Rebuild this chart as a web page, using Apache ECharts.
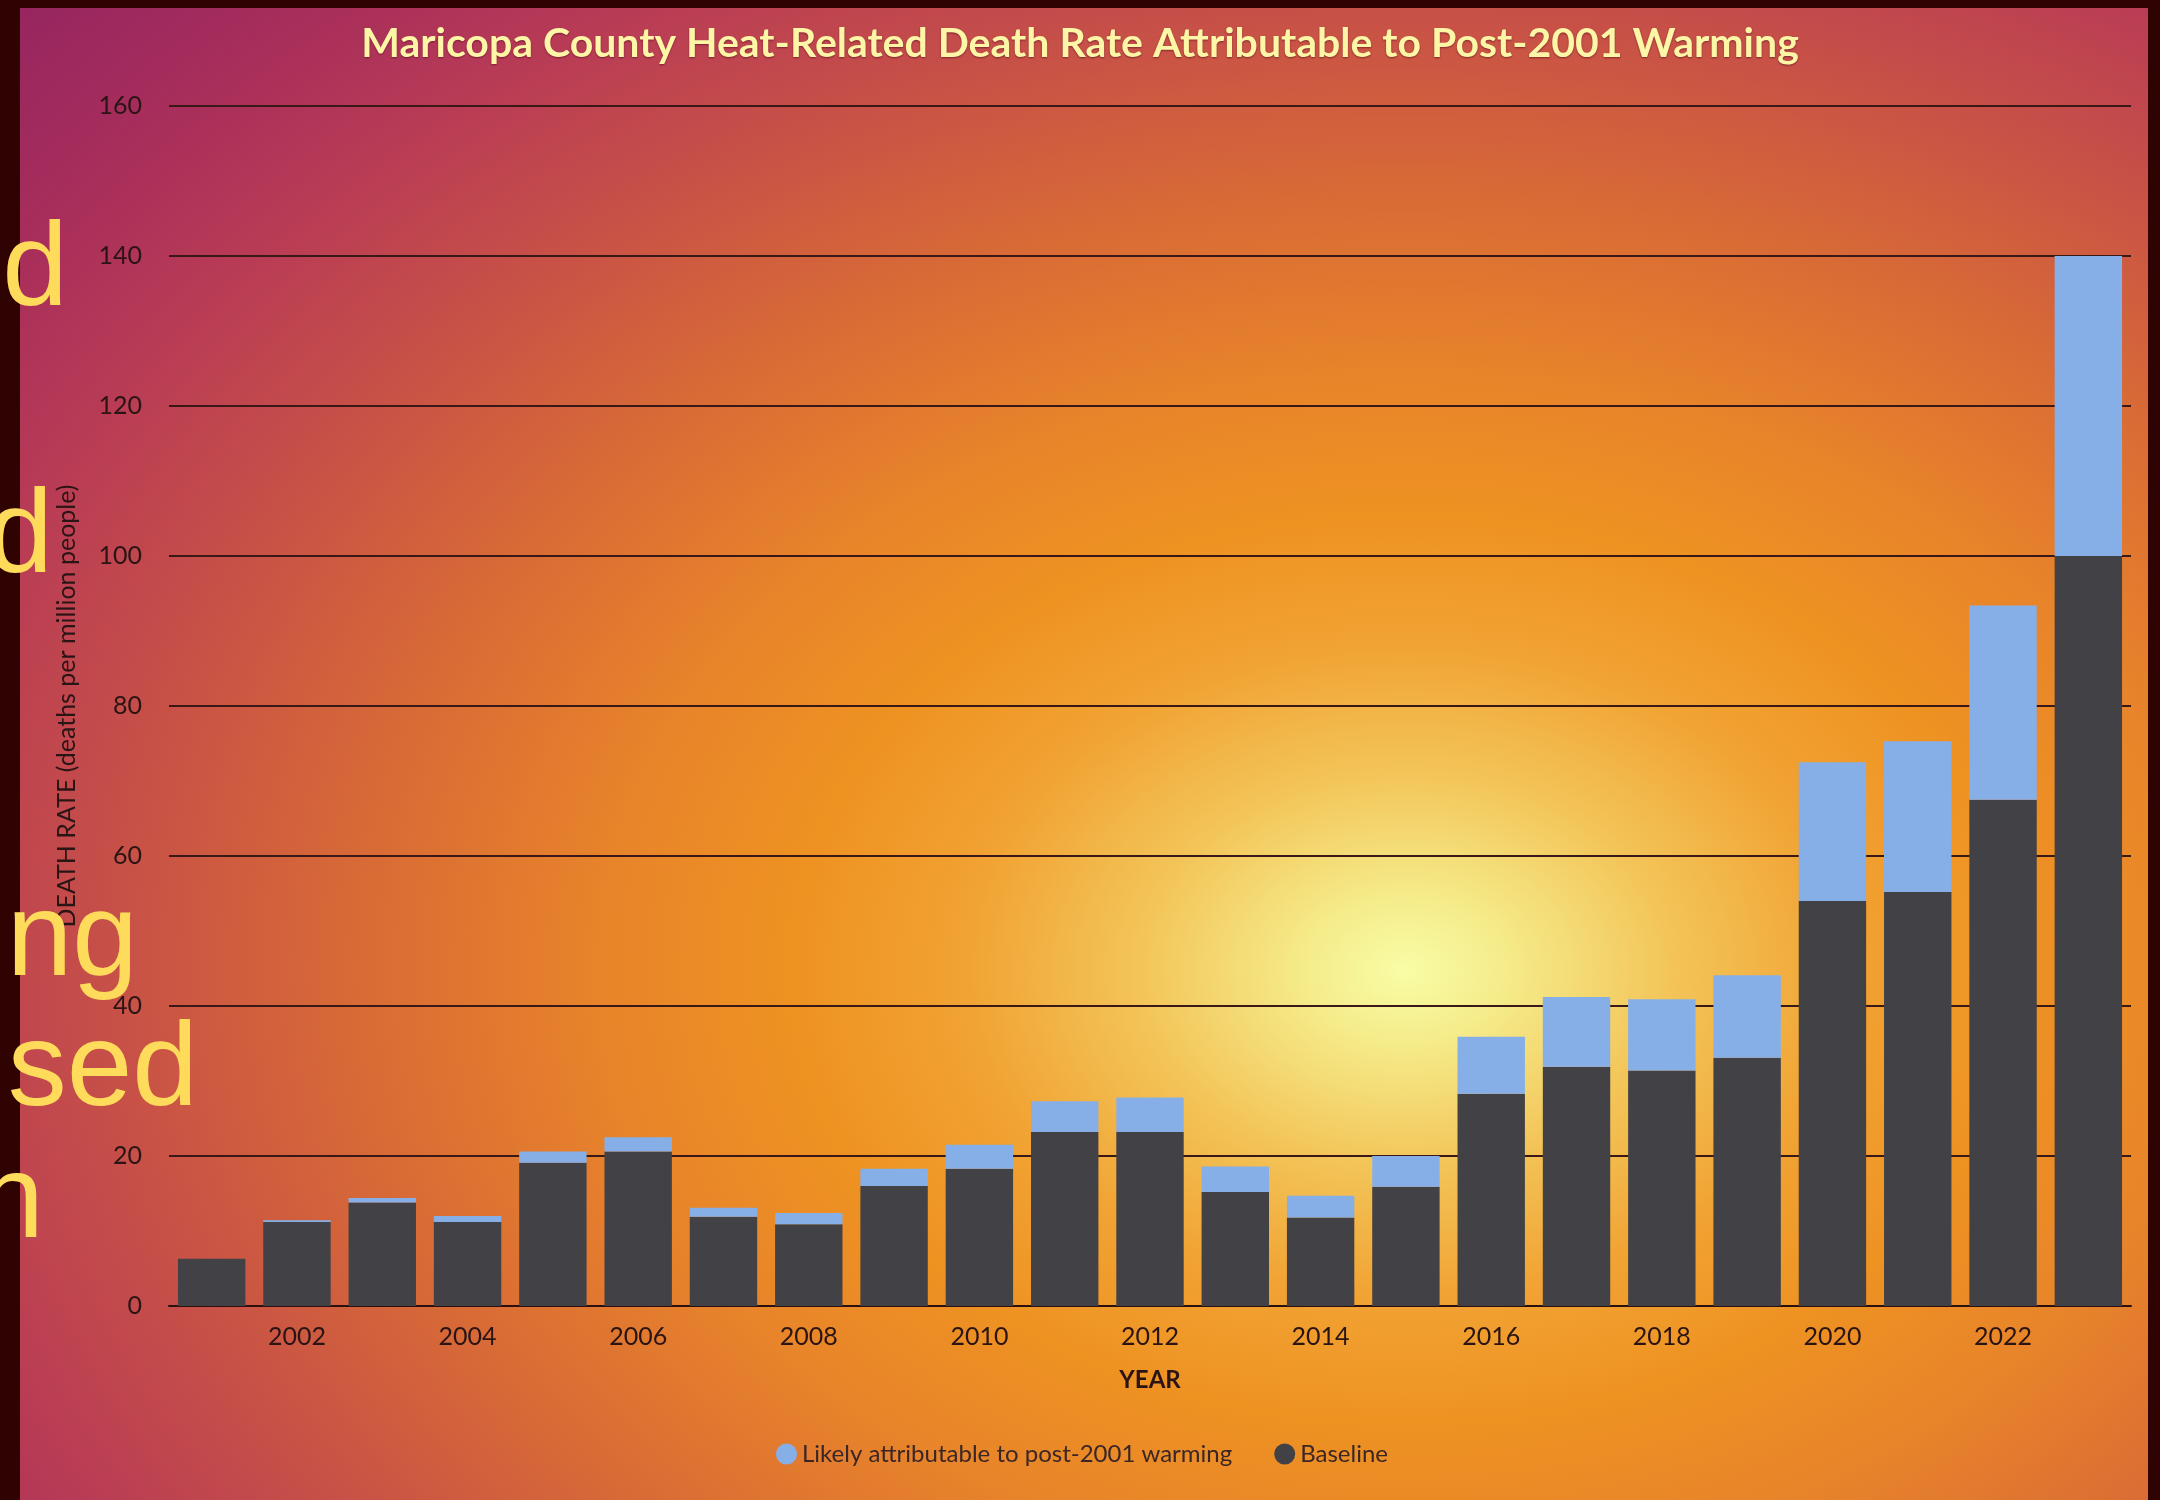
<!DOCTYPE html>
<html>
<head>
<meta charset="utf-8">
<script src="https://cdn.jsdelivr.net/npm/echarts@6/dist/echarts.min.js"></script>
<style>
html,body{margin:0;padding:0;background:#300303;}
#chart{width:2160px;height:1500px;}
</style>
</head>
<body>
<div id="chart"></div>
<script>
// ---- data ----
const years = ['2001','2002','2003','2004','2005','2006','2007','2008','2009','2010','2011','2012',
               '2013','2014','2015','2016','2017','2018','2019','2020','2021','2022','2023'];
const baseline = [6.3, 11.2, 13.8, 11.2, 19.1, 20.6, 11.9, 10.9, 16.0, 18.3, 23.2, 23.2,
                  15.2, 11.8, 15.9, 28.3, 31.9, 31.4, 33.1, 54.0, 55.2, 67.5, 100.0];
const warming  = [0, 0.25, 0.6, 0.8, 1.5, 1.9, 1.2, 1.5, 2.3, 3.2, 4.1, 4.6,
                  3.4, 2.9, 4.1, 7.6, 9.3, 9.5, 11.0, 18.5, 20.1, 25.9, 40.0];
const yMin = 0, yMax = 160, yStep = 20;
const titleText = 'Maricopa County Heat-Related Death Rate Attributable to Post-2001 Warming';
const xName = 'YEAR';
const yName = 'DEATH RATE (deaths per million people)';
const seriesNames = ['Likely attributable to post-2001 warming', 'Baseline'];
const overlayWords = ['d', 'd', 'ng', 'sed', 'n'];

// ---- layout / style ----
const FONT = 'Lato, "Open Sans", sans-serif';
const inkColor = '#2a1414';
const overlayPos = [[68, 272], [53, 539], [138, 942], [198, 1072], [44, 1204]];
const panel = {x: 20, y: 8, w: 2128, h: 1492};
const sx = 1.35;

const chart = echarts.init(document.getElementById('chart'), null, {renderer: 'canvas'});

const graphics = [
  {
    type: 'rect', z: -100, silent: true,
    x: panel.x, y: panel.y, scaleX: sx,
    shape: {x: 0, y: 0, width: panel.w / sx, height: panel.h},
    style: {
      fill: {
        type: 'radial', global: true,
        x: (1405 - panel.x) / sx, y: 970 - panel.y, r: 1420,
        colorStops: [
          {offset: 0.00, color: '#f8fda6'},
          {offset: 0.056, color: '#f5ea88'},
          {offset: 0.14, color: '#f3c458'},
          {offset: 0.23, color: '#f1a333'},
          {offset: 0.32, color: '#ee9222'},
          {offset: 0.42, color: '#e8842a'},
          {offset: 0.54, color: '#d96c35'},
          {offset: 0.68, color: '#c64f48'},
          {offset: 0.78, color: '#b93c55'},
          {offset: 0.88, color: '#a82e5b'},
          {offset: 1.00, color: '#952560'}
        ]
      }
    }
  }
];
overlayWords.forEach(function (w, i) {
  graphics.push({
    type: 'text', z: 200, silent: true,
    x: overlayPos[i][0], y: overlayPos[i][1],
    style: {
      text: w,
      font: '118px "Liberation Sans", Arial, sans-serif',
      fill: '#ffdb5c',
      textAlign: 'right', textVerticalAlign: 'middle'
    }
  });
});

const oddOnly = function (idx) { return idx % 2 === 1; };

chart.setOption({
  backgroundColor: '#300303',
  animation: false,
  title: {
    text: titleText,
    left: 'center', top: 18,
    textStyle: {
      color: '#fdf6a6', fontSize: 41, fontWeight: 'bold', fontFamily: FONT,
      textShadowColor: 'rgba(70,0,20,0.55)', textShadowBlur: 2, textShadowOffsetY: 1
    }
  },
  graphic: graphics,
  legend: {
    data: seriesNames,
    icon: 'circle', itemWidth: 21, itemHeight: 21, itemGap: 42,
    left: 771, top: 1437,
    textStyle: {fontSize: 24, color: '#3a2626', fontFamily: FONT}
  },
  grid: {left: 169, right: 29, top: 106, bottom: 194, containLabel: false},
  xAxis: {
    type: 'category', data: years,
    name: xName, nameLocation: 'middle', nameGap: 62,
    nameTextStyle: {fontSize: 24, fontWeight: 'bold', color: inkColor, fontFamily: FONT},
    axisLine: {lineStyle: {color: '#2a1010', width: 2}},
    axisTick: {alignWithLabel: true, interval: oddOnly, length: 17, lineStyle: {color: '#2a1010', width: 2}},
    axisLabel: {interval: oddOnly, fontSize: 25, color: inkColor, margin: 18, fontFamily: FONT}
  },
  yAxis: {
    type: 'value', min: yMin, max: yMax, interval: yStep,
    name: yName, nameLocation: 'middle', nameGap: 90,
    nameTextStyle: {fontSize: 25, color: inkColor, fontFamily: FONT},
    axisLine: {show: false}, axisTick: {show: false},
    axisLabel: {fontSize: 25, color: inkColor, margin: 27, fontFamily: FONT},
    splitLine: {lineStyle: {color: '#3a1818', width: 2}}
  },
  series: [
    {
      name: seriesNames[1], type: 'bar', stack: 'total', data: baseline,
      barCategoryGap: '21%',
      itemStyle: {color: '#414146'}
    },
    {
      name: seriesNames[0], type: 'bar', stack: 'total', data: warming,
      barCategoryGap: '21%',
      itemStyle: {color: '#86afe8'}
    }
  ]
});
</script>
</body>
</html>
